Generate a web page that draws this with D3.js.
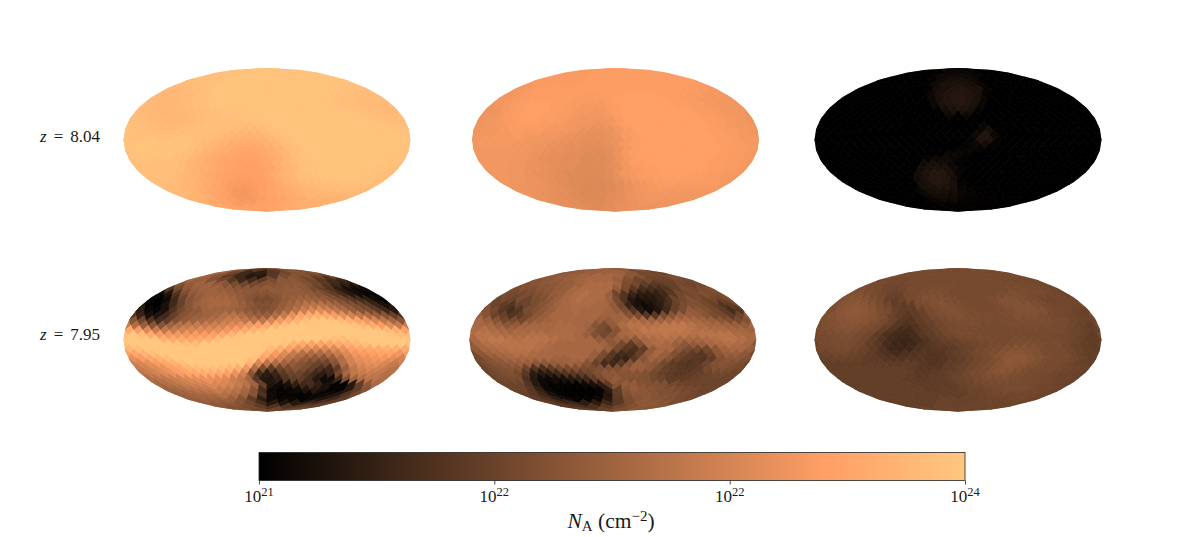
<!DOCTYPE html>
<html>
<head>
<meta charset="utf-8">
<script src="https://cdn.jsdelivr.net/npm/d3@7"></script>
<style>
  body { margin: 0; background: #fff; }
  text { font-family: "Liberation Serif", serif; fill: #1a1a1a; }
</style>
</head>
<body>
<div id="chart"></div>
<script>
// column density per HEALPix ring (nside 8), north to south, left to right.
// values are percent along the colour bar
var ringsHighA = [
[97,98,98,98],
[96,97,98,98,98,98,98,98],
[96,96,97,98,98,98,98,98,98,98,98,98],
[95,95,96,97,98,98,98,98,98,98,98,98,98,98,98,97],
[94,95,95,96,97,98,98,98,98,98,98,98,98,98,98,98,98,98,97,97],
[93,93,94,95,96,97,98,98,98,98,98,98,98,98,98,98,98,98,98,98,97,97,96,96],
[92,92,93,93,94,96,97,98,98,98,98,98,98,98,98,98,98,98,98,98,98,98,97,96,96,95,95,95],
[93,92,92,92,93,94,95,96,97,98,98,98,98,98,98,98,98,98,98,98,98,98,98,98,97,96,95,95,94,94,94,94],
[94,92,92,92,92,93,94,95,96,97,98,98,98,98,98,98,98,98,98,98,98,98,98,98,98,97,96,95,94,93,93,93],
[94,93,92,91,92,92,93,94,95,96,97,98,98,98,98,98,98,98,98,98,98,98,98,98,98,98,97,96,95,94,93,93],
[95,94,93,92,92,92,92,93,94,95,96,97,97,98,98,98,98,98,98,98,98,98,98,98,98,98,98,97,96,95,94,93],
[96,95,93,93,92,92,92,93,94,95,96,96,97,97,97,97,98,98,98,98,98,98,98,98,98,98,98,98,97,96,95,95],
[96,96,95,94,93,93,93,94,95,96,96,96,96,95,95,96,97,98,98,98,98,98,98,98,98,98,98,98,98,97,96,96],
[97,96,95,94,94,94,95,95,96,96,96,95,94,93,93,94,96,97,98,98,98,98,98,98,98,98,98,98,98,98,97,97],
[97,97,96,96,95,95,96,96,96,96,95,93,92,91,90,91,93,96,97,98,98,98,98,98,98,98,98,98,98,98,98,98],
[98,97,97,97,97,97,97,97,96,95,93,91,89,88,88,89,91,94,96,98,98,98,98,98,98,98,98,98,98,98,98,98],
[97,98,98,98,97,97,97,97,95,93,91,89,87,86,86,87,89,92,95,97,98,98,98,98,98,98,98,98,98,98,98,98],
[97,98,98,98,98,98,97,96,94,91,89,87,85,84,84,85,87,90,94,96,98,98,98,98,98,98,98,98,98,98,98,98],
[96,97,98,98,98,98,97,95,92,89,87,85,84,83,82,83,85,88,92,95,97,98,98,98,98,98,98,98,98,98,98,97],
[97,97,97,97,97,96,94,92,89,87,85,83,82,82,82,83,85,88,92,95,97,98,98,98,98,98,98,98,98,98,97,97],
[96,96,97,97,97,96,94,91,89,87,85,83,82,81,81,82,85,88,92,94,96,97,98,98,98,98,98,98,98,98,98,97],
[96,96,96,96,96,94,92,90,88,86,84,82,81,80,80,81,83,87,90,93,96,97,98,98,98,98,98,98,98,97,97,96],
[96,96,96,96,95,93,91,89,87,85,83,81,80,80,80,81,83,86,90,92,95,96,97,98,98,98,98,98,98,97,96,96],
[96,96,96,95,94,92,90,88,85,83,81,80,79,79,80,81,84,87,90,92,94,95,96,97,98,98,98,98,97,97,96,96],
[96,95,94,93,91,89,86,84,81,79,78,78,79,80,82,85,88,90,92,93,94,95,96,96,96,96,96,96],
[95,94,92,90,88,85,82,79,77,77,78,80,83,85,87,89,91,92,93,94,94,94,94,94],
[93,92,90,87,83,80,77,76,78,80,83,85,87,89,91,92,92,92,92,92],
[91,89,87,83,79,77,77,79,81,83,85,87,89,90,90,90],
[88,85,81,78,78,80,82,84,86,88,88,89],
[84,81,80,81,83,85,87,88],
[82,82,84,86]
];
var ringsHighB = [
[78,79,79,79],
[78,78,79,79,79,79,79,79],
[78,78,78,78,79,79,79,79,79,79,79,79],
[78,78,78,78,78,79,79,79,79,79,79,79,79,79,79,79],
[77,78,78,78,78,78,79,79,79,79,79,79,79,79,79,79,79,79,79,78],
[77,77,78,79,79,79,79,79,79,79,79,79,79,79,79,79,79,79,79,79,79,78,78,77],
[76,77,78,79,79,79,79,79,79,79,78,78,79,79,79,80,80,80,80,79,79,79,79,78,78,77,77,77],
[76,76,77,78,79,79,79,79,79,79,78,78,78,78,78,79,80,80,80,80,80,80,80,79,79,78,78,77,77,76,76,76],
[75,76,77,78,79,80,80,80,79,79,78,78,77,77,77,78,79,80,80,80,80,80,80,80,79,79,78,78,77,76,76,76],
[74,75,77,78,79,80,80,80,79,79,78,77,77,76,76,78,79,80,80,80,80,80,80,80,80,79,78,78,77,76,76,75],
[74,75,76,78,79,80,80,80,79,78,78,77,76,76,76,77,79,80,80,80,80,80,80,80,80,80,79,78,78,77,76,76],
[75,76,77,78,79,80,80,79,79,78,77,76,75,75,75,76,78,80,80,80,80,80,80,80,80,80,79,79,78,77,76,75],
[75,75,76,77,78,79,79,79,78,77,77,76,75,75,74,75,77,79,80,80,80,80,80,80,80,80,80,79,78,77,76,76],
[75,76,76,77,78,78,78,78,77,77,76,75,74,73,73,74,76,78,80,80,80,80,80,80,80,80,79,79,78,78,77,76],
[75,76,76,77,77,78,77,77,76,76,75,74,73,72,72,73,75,78,79,80,80,80,80,80,80,80,80,79,79,78,77,76],
[76,77,77,77,77,77,76,76,75,75,74,73,72,72,72,73,75,77,79,80,80,80,80,80,80,80,80,79,79,78,77,77],
[76,77,77,77,77,76,76,75,75,74,73,72,72,71,71,72,74,77,79,80,80,80,80,80,80,80,80,80,79,78,78,77],
[76,76,76,76,76,76,75,75,74,73,72,72,71,71,71,72,74,77,79,80,80,80,80,80,80,80,80,80,79,78,78,77],
[76,76,76,76,76,75,75,74,73,72,72,71,71,70,70,71,74,77,79,80,80,80,80,80,80,80,80,80,79,78,78,77],
[76,76,76,76,75,75,74,73,72,72,71,71,70,70,70,71,74,77,79,80,80,80,80,80,80,80,80,79,79,78,78,77],
[76,76,76,76,75,75,74,73,72,72,71,71,70,70,70,71,73,76,79,79,80,80,80,80,80,80,80,79,79,78,78,77],
[76,76,76,75,75,74,74,73,72,71,71,70,70,70,70,71,73,76,78,79,79,80,80,80,80,80,80,79,79,78,78,77],
[76,76,76,75,75,74,73,73,72,71,70,70,70,70,70,71,73,76,77,78,79,79,80,80,80,80,79,79,78,78,77,77],
[76,76,75,75,74,74,73,72,71,71,70,70,69,69,70,71,73,75,77,78,78,79,79,79,79,79,79,79,78,78,77,77],
[76,75,75,74,74,73,72,71,70,70,69,69,69,70,71,73,75,76,77,78,78,78,78,78,78,78,78,77],
[75,75,74,74,73,72,71,70,69,69,69,70,71,73,75,76,77,77,77,77,77,77,77,77],
[75,74,73,72,71,70,69,69,70,71,72,74,75,76,76,76,76,76,76,76],
[74,73,72,71,70,69,69,71,72,74,75,76,76,76,76,76],
[73,72,71,70,70,71,72,74,75,75,75,75],
[72,71,70,71,73,74,74,75],
[71,71,73,74]
];
var ringsHighC = [
[1,3,3,1],
[0,0,1,3,4,2,0,0],
[0,0,0,1,4,5,5,3,1,0,0,0],
[0,0,0,0,0,2,5,7,7,5,1,0,0,0,0,0],
[0,0,0,0,0,0,1,5,8,9,9,7,3,0,0,0,0,0,0,0],
[0,0,0,0,0,0,0,0,1,6,8,10,11,9,8,2,0,0,0,0,0,0,0,0],
[0,0,0,0,0,0,0,0,0,0,4,8,10,11,11,10,8,2,0,0,0,0,0,0,0,0,0,0],
[0,0,0,0,0,0,0,0,0,0,0,0,3,7,10,11,12,10,8,3,0,0,0,0,0,0,0,0,0,0,0,0],
[0,0,0,0,0,0,0,0,0,0,0,0,0,4,8,10,11,10,8,4,0,0,0,0,0,0,0,0,0,0,0,0],
[0,0,0,0,0,0,0,0,0,0,0,0,0,1,6,8,9,7,2,0,0,0,0,0,0,0,0,0,0,0,0,0],
[0,0,0,0,0,0,0,0,0,0,0,0,0,0,0,4,1,4,0,0,0,0,0,0,0,0,0,0,0,0,0,0],
[0,0,0,0,0,0,0,0,0,0,0,0,0,0,0,0,0,0,0,0,0,0,0,0,0,0,0,0,0,0,0,0],
[0,0,0,0,0,0,0,0,0,0,0,0,0,0,0,0,0,0,0,3,0,0,0,0,0,0,0,0,0,0,0,0],
[0,0,0,0,0,0,0,0,0,0,0,0,0,0,0,0,0,0,3,7,1,0,0,0,0,0,0,0,0,0,0,0],
[0,0,0,0,0,0,0,0,0,0,0,0,0,0,0,0,0,0,5,10,4,0,0,0,0,0,0,0,0,0,0,0],
[0,0,0,0,0,0,0,0,0,0,0,0,0,0,0,0,0,2,10,9,2,0,0,0,0,0,0,0,0,0,0,0],
[0,0,0,0,0,0,0,0,0,0,0,0,0,0,0,0,0,2,4,6,2,0,0,0,0,0,0,0,0,0,0,0],
[0,0,0,0,0,0,0,0,0,0,0,0,0,0,0,1,2,3,2,0,0,0,0,0,0,0,0,0,0,0,0,0],
[0,0,0,0,0,0,0,0,0,0,0,0,0,0,1,3,3,2,0,0,0,0,0,1,0,0,0,0,0,0,0,0],
[0,0,0,0,0,0,0,0,0,0,0,0,2,4,5,3,1,0,0,0,0,0,0,1,0,0,0,0,0,0,0,0],
[0,0,0,0,0,0,0,0,0,0,0,0,5,7,6,4,2,0,0,0,0,0,0,0,0,0,0,0,0,0,0,0],
[0,0,0,0,0,0,0,0,0,0,0,6,8,9,8,5,2,0,0,0,0,0,0,0,0,0,0,0,0,0,0,0],
[0,0,0,0,0,0,0,0,0,0,0,6,9,11,11,8,3,0,0,0,0,0,0,0,0,0,0,0,0,0,0,0],
[0,0,0,0,0,0,0,0,0,0,5,8,11,11,10,6,1,0,0,0,0,0,0,0,0,0,0,0,0,0,0,0],
[0,0,0,0,0,0,0,0,0,7,9,11,10,7,2,0,0,0,0,0,0,0,0,0,0,0,0,0],
[0,0,0,0,0,0,0,3,7,8,8,7,3,2,1,0,0,0,0,0,0,0,0,0],
[0,0,0,0,0,0,4,6,6,5,3,2,1,0,0,0,0,0,0,0],
[0,0,0,0,0,3,5,5,2,2,1,1,0,0,0,0],
[0,0,0,1,2,2,1,1,1,0,0,0],
[0,0,1,1,1,1,0,0],
[0,1,1,0]
];
var ringsLowA = [
[40,28,30,42],
[50,35,20,15,27,35,42,42],
[50,42,30,20,12,12,28,38,42,40,35,33],
[50,48,40,35,28,20,22,30,38,44,44,40,35,28,22,20],
[42,46,50,50,46,42,38,35,36,40,42,44,44,44,40,35,28,20,15,12],
[26,36,44,48,50,50,48,46,44,44,44,45,46,45,46,46,44,38,32,25,15,8,5,5],
[5,10,25,38,45,48,50,50,50,48,46,44,42,42,42,44,46,46,46,45,42,38,30,22,12,6,3,2],
[2,0,5,20,33,42,46,50,52,52,52,50,46,42,38,38,38,42,46,48,50,50,48,46,44,40,35,28,22,15,6,0],
[8,2,0,8,20,32,42,48,50,52,52,52,50,48,44,40,40,42,46,50,54,58,58,58,54,50,45,40,35,28,18,8],
[15,4,2,8,25,36,42,45,50,50,50,50,48,45,42,40,42,48,52,58,64,68,70,66,60,55,48,42,38,30,20,12],
[25,18,8,10,20,32,42,46,48,50,52,56,58,55,50,48,48,55,62,72,82,85,88,84,78,72,66,60,55,48,42,32],
[42,35,25,22,30,40,46,50,52,55,58,62,64,60,58,60,68,76,82,90,96,100,100,98,94,88,82,76,68,60,52,42],
[62,55,48,42,42,50,56,60,62,62,64,66,70,72,76,80,84,90,96,100,100,100,100,100,100,100,98,92,86,78,70,62],
[85,78,70,62,60,62,66,68,70,70,72,76,80,85,90,95,100,100,100,100,100,100,100,100,100,100,100,100,98,94,88,80],
[95,100,95,85,78,76,76,76,78,78,80,85,92,98,100,100,100,100,100,100,100,100,100,100,100,100,100,100,100,100,98,95],
[100,100,100,98,90,86,85,84,85,88,95,100,100,100,100,100,100,100,100,100,100,100,98,95,95,98,100,100,100,100,100,100],
[98,100,100,100,100,100,98,95,95,100,100,100,100,100,100,100,100,100,98,90,85,82,82,82,85,88,92,96,100,100,100,100],
[92,96,100,100,100,100,100,100,100,100,100,100,100,100,100,100,95,88,80,74,70,68,68,70,74,80,84,85,86,88,88,85],
[78,84,90,96,100,100,100,100,100,100,100,100,100,100,100,98,88,78,70,62,56,54,54,56,62,70,76,78,80,82,82,76],
[72,78,84,90,95,100,100,100,100,100,100,100,100,100,98,82,72,66,58,52,46,44,42,46,55,66,72,74,76,76,72,66],
[64,68,72,78,84,90,95,100,100,100,100,100,100,100,90,68,58,54,50,46,42,38,34,34,42,56,66,70,72,72,68,62],
[62,66,70,74,80,84,90,94,96,96,95,92,86,76,55,38,30,34,38,42,38,32,25,20,30,48,60,66,68,66,62,58],
[58,62,66,70,74,78,82,84,86,86,84,80,74,66,42,20,14,18,28,34,34,28,20,14,18,36,52,60,62,62,60,56],
[55,58,60,64,66,70,72,74,74,72,70,64,60,52,28,12,10,15,25,30,30,22,12,5,5,20,40,50,55,58,58,55],
[52,55,58,62,65,66,68,68,68,66,62,58,50,32,10,5,8,15,20,22,15,8,2,2,12,30,45,52],
[50,52,55,58,60,62,62,60,58,52,42,22,5,2,3,5,10,12,8,2,2,12,30,42],
[48,50,52,54,56,56,54,50,42,25,5,2,3,2,3,3,5,10,25,35],
[48,50,50,50,48,42,30,15,5,3,3,2,5,10,20,30],
[46,46,46,42,35,22,12,10,12,15,22,30],
[44,42,38,30,25,25,28,32],
[40,36,34,34]
];
var ringsLowB = [
[46,48,46,44],
[44,46,48,49,49,44,36,34],
[44,46,48,50,52,52,50,44,40,36,36,38],
[42,44,46,48,50,52,52,52,48,40,34,36,34,34,38,36],
[40,42,44,44,46,48,50,54,54,54,50,38,36,30,28,30,32,36,34,36],
[38,40,40,42,44,46,48,52,54,54,54,54,46,38,28,22,22,22,26,32,38,36,38,40],
[38,36,36,38,40,42,46,48,52,54,56,54,54,48,34,26,18,14,14,16,20,28,36,36,38,40,38,38],
[34,36,34,38,34,38,40,44,48,52,54,56,54,54,54,49,38,25,12,8,10,12,16,24,34,36,40,38,34,36,34,38],
[38,34,30,26,32,34,38,42,46,50,52,54,54,54,52,52,46,35,18,8,5,8,14,22,32,38,40,40,36,32,26,30],
[42,36,28,22,26,38,40,44,48,52,52,54,52,52,52,50,46,38,26,12,6,10,20,32,38,46,44,40,36,30,22,26],
[46,42,34,32,26,30,36,44,48,52,52,52,52,52,52,50,50,50,42,38,28,28,38,42,48,48,46,42,38,36,30,34],
[52,48,42,36,38,36,44,48,50,52,52,52,52,52,48,46,50,52,54,52,50,50,52,54,54,52,50,48,44,40,38,40],
[52,52,52,48,44,46,50,52,52,52,54,54,52,50,42,38,46,54,58,58,56,58,60,60,60,58,54,52,52,50,48,46],
[54,56,54,52,50,52,52,52,52,54,54,54,52,46,38,34,42,52,56,60,60,60,60,60,58,56,56,54,54,52,52,50],
[54,58,58,56,54,54,54,56,56,54,54,54,52,48,40,36,42,52,54,56,58,58,60,58,58,56,58,58,58,58,54,52],
[52,58,60,60,58,56,58,58,58,56,54,54,52,52,46,44,48,48,44,52,54,56,56,52,52,52,54,56,58,58,56,52],
[44,52,56,58,58,58,58,58,56,54,52,52,52,52,52,50,44,36,30,40,52,54,52,48,44,46,48,52,54,56,54,52],
[46,52,54,56,58,58,58,56,54,52,52,52,52,52,52,48,36,28,24,30,46,52,52,44,38,36,36,44,50,52,52,48],
[36,44,50,52,54,56,56,54,52,52,52,52,52,52,48,38,28,22,22,32,46,52,48,40,34,30,28,34,44,48,48,44],
[36,42,46,50,52,52,52,52,52,50,50,52,52,48,38,28,18,18,28,42,50,48,42,34,30,28,26,30,40,44,44,40],
[34,38,42,44,46,48,48,44,44,46,48,50,48,42,32,22,20,28,40,48,46,44,36,30,28,26,28,34,40,42,40,38],
[34,38,40,42,42,34,26,24,30,36,38,40,38,38,40,40,40,44,48,48,44,38,32,30,28,28,30,36,40,40,38,36],
[34,36,38,40,36,28,14,12,14,20,26,28,30,34,40,44,44,42,42,42,40,36,32,30,28,28,30,32,34,36,36,34],
[34,36,38,38,24,12,5,5,6,8,12,16,20,30,38,44,46,42,40,40,40,36,34,30,30,30,32,34,34,34,34,34],
[34,34,34,26,12,4,2,2,2,2,4,8,14,30,42,46,46,42,40,40,40,36,34,34,34,34,34,34],
[34,34,28,16,4,1,0,0,0,0,3,14,30,42,46,44,42,40,40,38,36,36,34,34],
[32,28,20,8,2,0,0,0,2,10,30,40,44,44,42,40,40,38,36,34],
[30,24,14,6,2,2,4,12,28,38,42,44,42,40,38,36],
[30,22,18,14,14,20,28,38,44,44,42,38],
[28,24,24,28,34,40,44,42],
[30,32,38,42]
];
var ringsLowC = [
[37,37,37,37],
[37,37,37,37,37,37,37,37],
[37,37,37,37,37,37,37,37,37,37,37,37],
[37,36,36,37,37,37,37,37,37,37,37,37,36,36,36,36],
[37,37,35,35,36,37,37,37,37,37,37,37,37,37,37,37,37,37,36,35],
[39,38,37,35,34,35,37,37,38,38,38,37,37,37,37,37,37,37,37,38,37,37,36,35],
[40,40,39,37,35,33,33,36,37,39,39,39,38,37,37,37,37,37,37,38,39,39,38,37,37,36,35,34],
[40,42,42,41,39,37,32,30,33,37,38,40,40,40,39,38,37,37,37,37,38,40,41,40,39,38,37,35,34,35,35,35],
[39,41,43,44,43,41,38,35,31,30,31,37,38,40,41,40,39,38,37,37,37,38,40,41,41,41,39,37,36,35,35,35],
[39,42,44,45,44,42,39,37,32,30,30,33,37,39,40,40,39,38,37,37,37,38,39,41,41,41,40,37,36,35,34,33],
[39,41,43,44,44,43,41,38,34,30,28,30,33,37,39,40,40,39,38,38,38,38,39,40,40,40,39,37,36,35,34,33],
[39,40,42,43,43,42,40,37,33,28,26,30,33,35,37,38,39,39,38,38,37,38,38,39,39,39,38,37,37,35,34,33],
[37,39,40,42,42,41,39,37,33,28,24,26,30,32,35,37,38,38,38,37,37,37,38,38,38,38,38,37,37,35,33,31],
[38,39,40,41,40,38,37,31,26,22,21,26,30,33,35,37,37,37,37,37,37,37,37,37,37,37,37,37,35,34,32,32],
[35,37,38,39,39,37,35,30,24,21,20,22,28,30,32,35,37,37,37,37,37,37,37,37,37,37,37,36,35,34,32,30],
[37,37,38,38,37,35,31,26,21,19,19,22,26,30,32,33,35,36,37,37,37,37,38,38,37,37,37,36,35,33,31,30],
[33,37,37,37,37,35,31,28,22,19,18,20,24,28,30,31,33,34,35,36,37,37,38,39,39,38,37,37,35,33,31,30],
[35,36,37,37,35,33,30,25,20,19,20,24,26,28,28,30,32,34,36,37,38,40,41,41,40,38,37,37,35,33,31,30],
[32,34,35,35,34,32,30,27,24,22,24,26,27,26,27,29,31,33,36,37,39,41,43,43,42,40,38,37,37,35,33,31],
[32,33,33,33,32,30,29,27,26,26,27,27,26,26,27,29,31,33,35,37,40,43,44,44,42,40,38,37,37,35,33,31],
[31,31,31,31,31,30,30,30,29,29,30,30,28,26,27,30,31,33,35,37,39,42,44,43,42,40,38,37,37,35,33,32],
[31,31,31,31,31,31,31,31,31,31,30,28,27,28,30,31,33,35,37,38,41,43,43,41,39,38,37,37,36,35,34,33],
[31,31,31,31,31,31,31,31,31,31,30,28,28,29,30,32,33,35,37,38,40,41,41,39,38,37,37,36,35,34,34,33],
[31,31,31,31,31,31,31,31,31,30,29,29,30,30,31,33,34,35,37,38,38,39,39,38,37,37,36,35,35,34,34,33],
[31,31,31,31,31,31,31,31,30,30,30,30,30,31,33,34,35,37,37,37,37,37,37,36,35,35,34,33],
[31,31,31,31,31,31,31,31,30,30,31,31,32,34,34,35,36,37,37,37,36,35,35,34],
[31,31,31,31,31,31,31,31,31,31,31,33,34,35,35,35,35,35,35,34],
[31,31,31,31,31,31,33,33,33,33,34,34,34,35,35,34],
[31,31,31,31,33,33,33,34,34,34,34,34],
[31,31,33,33,34,34,34,34],
[33,33,34,34]
];
var rowLabels = ["8.04", "7.95"];
var barTicks = [21, 22, 23, 24];
var barTickLabels = ["21", "22", "22", "24"];

var nside = 8;
var pi = Math.PI;
var width = 1196, height = 537;

var svg = d3.select("#chart").append("svg")
    .attr("width", width)
    .attr("height", height)
    .style("display", "block");

// copper colormap
var colour = d3.scaleLinear()
    .domain([0, 80, 100])
    .range(["#000000", "#ff9f65", "#ffc77f"])
    .clamp(true);

function mollweideRaw(lambda, phi) {
  var theta = phi;
  if (Math.abs(phi) > pi / 2 - 1e-6) {
    theta = phi > 0 ? pi / 2 : -pi / 2;
  } else {
    for (var i = 0; i < 30; i++) {
      var f = 2 * theta + Math.sin(2 * theta) - pi * Math.sin(phi);
      theta -= f / (2 + 2 * Math.cos(2 * theta));
    }
  }
  return [2 * Math.SQRT2 / pi * lambda * Math.cos(theta), Math.SQRT2 * Math.sin(theta)];
}

// healpix plane -> lon/lat in degrees. xc is the cap's centre meridian,
// worked out from xs when the cell sits on the equatorial belt
function planeToGeo(xs, ys, xc) {
  var lon, lat;
  if (Math.abs(ys) <= pi / 4) {
    lon = xs;
    lat = Math.asin(8 * ys / (3 * pi));
  } else {
    if (xc === null) {
      var q = Math.max(0, Math.min(3, Math.floor((xs + pi) / (pi / 2))));
      xc = -pi + (q + 0.5) * pi / 2;
    }
    var sigma = 2 - 4 * Math.abs(ys) / pi;
    lon = sigma > 1e-9 ? xc + (xs - xc) / sigma : xc;
    var z = 1 - sigma * sigma / 3;
    lat = (ys > 0 ? 1 : -1) * Math.asin(Math.min(1, z));
  }
  // d3 wraps anything past the antimeridian over to the other side
  lon = Math.max(-pi + 1e-6, Math.min(pi - 1e-6, lon));
  return [lon * 180 / pi, lat * 180 / pi];
}

function cellOutline(xs, ys, xc, projection) {
  var d = pi / (4 * nside);
  var corners = [[xs, ys + d], [xs + d, ys], [xs, ys - d], [xs - d, ys]];
  var pts = [];
  corners.forEach(function(a, i) {
    var b = corners[(i + 1) % 4];
    d3.range(4).forEach(function(k) {
      var x = a[0] + (b[0] - a[0]) * k / 4,
          y = a[1] + (b[1] - a[1]) * k / 4;
      x = Math.max(-pi, Math.min(pi, x));
      pts.push(projection(planeToGeo(x, y, xc)));
    });
  });
  return "M" + pts.map(function(p) { return p[0].toFixed(2) + "," + p[1].toFixed(2); }).join("L") + "Z";
}

function ringCells(rings) {
  var cells = [];
  rings.forEach(function(row, r) {
    var ring = r + 1;
    var capRing = Math.min(ring, 4 * nside - ring);
    var ys = pi / 2 - ring * pi / (4 * nside);
    if (capRing < nside) {
      row.forEach(function(v, c) {
        var q = Math.floor(c / capRing), k = c - q * capRing;
        var xc = -pi + (q + 0.5) * pi / 2;
        cells.push({v: v, xs: xc + (k - (capRing - 1) / 2) * pi / (2 * nside), ys: ys, xc: xc});
      });
    } else {
      var shifted = (ring - nside + 1) % 2;
      row.forEach(function(v, c) {
        var xs = -pi + (c + (shifted ? 0.5 : 0)) * pi / (2 * nside);
        cells.push({v: v, xs: xs, ys: ys, xc: null});
        if (!shifted && c == 0) cells.push({v: v, xs: pi, ys: ys, xc: null}); // cell split by the map edge
      });
    }
  });
  return cells;
}

function drawMap(rings, cx, cy, id) {
  var projection = d3.geoProjection(mollweideRaw)
      .scale(143.5 / (2 * Math.SQRT2))
      .translate([cx, cy]);

  svg.append("clipPath")
      .attr("id", id)
    .append("path")
      .attr("d", d3.geoPath(projection)({type: "Sphere"}));

  svg.append("g")
      .attr("clip-path", "url(#" + id + ")")
    .selectAll("path")
      .data(ringCells(rings))
    .enter().append("path")
      .attr("d", function(d) { return cellOutline(d.xs, d.ys, d.xc, projection); })
      .attr("fill", function(d) { return colour(d.v); })
      .attr("stroke", function(d) { return colour(d.v); })
      .attr("stroke-width", 0.9);
}

drawMap(ringsHighA, 267, 139.75, "m1");
drawMap(ringsHighB, 615.5, 139.75, "m2");
drawMap(ringsHighC, 958, 139.75, "m3");
drawMap(ringsLowA, 267, 339.75, "m4");
drawMap(ringsLowB, 612.8, 339.75, "m5");
drawMap(ringsLowC, 958, 339.75, "m6");

// row labels
rowLabels.forEach(function(label, i) {
  var t = svg.append("text")
      .attr("x", 100)
      .attr("y", [142, 340][i])
      .attr("text-anchor", "end")
      .style("font-size", "17px");
  t.append("tspan").style("font-style", "italic").text("z");
  t.append("tspan").attr("dx", 7).text("=");
  t.append("tspan").attr("dx", 7).text(label);
});

// colour bar
var barLeft = 259, barRight = 965, barTop = 452.5, barBottom = 480.5;
var barScale = d3.scaleLinear().domain([21, 24]).range([barLeft, barRight]);

var grad = svg.append("defs").append("linearGradient")
    .attr("id", "copper");
[0, 80, 100].forEach(function(s) {
  grad.append("stop").attr("offset", s + "%").attr("stop-color", colour(s));
});

svg.append("rect")
    .attr("x", barLeft)
    .attr("y", barTop)
    .attr("width", barRight - barLeft)
    .attr("height", barBottom - barTop)
    .attr("fill", "url(#copper)")
    .attr("stroke", "#222")
    .attr("stroke-width", 0.8);

var barAxis = svg.append("g")
    .attr("transform", "translate(0," + barBottom + ")")
    .call(d3.axisBottom(barScale).tickValues(barTicks).tickSize(4).tickFormat(""));
barAxis.select(".domain").remove();
barAxis.selectAll("line").attr("stroke", "#222").attr("stroke-width", 0.8);
barAxis.selectAll("text").remove();

barTicks.forEach(function(v, i) {
  var t = svg.append("text")
      .attr("x", barScale(v))
      .attr("y", 502)
      .attr("text-anchor", "middle")
      .style("font-size", "17px");
  t.append("tspan").text("10");
  t.append("tspan").attr("dy", -6).style("font-size", "12.5px").text(barTickLabels[i]);
});

// colour bar title
var title = svg.append("text")
    .attr("x", 611)
    .attr("y", 528)
    .attr("text-anchor", "middle")
    .style("font-size", "21.5px");
title.append("tspan").style("font-style", "italic").text("N");
title.append("tspan").attr("dy", 3).style("font-size", "15px").text("A");
title.append("tspan").attr("dy", -3).text(" (cm");
title.append("tspan").attr("dy", -7).style("font-size", "15px").text("\u22122");
title.append("tspan").attr("dy", 7).text(")");
</script>
</body>
</html>
